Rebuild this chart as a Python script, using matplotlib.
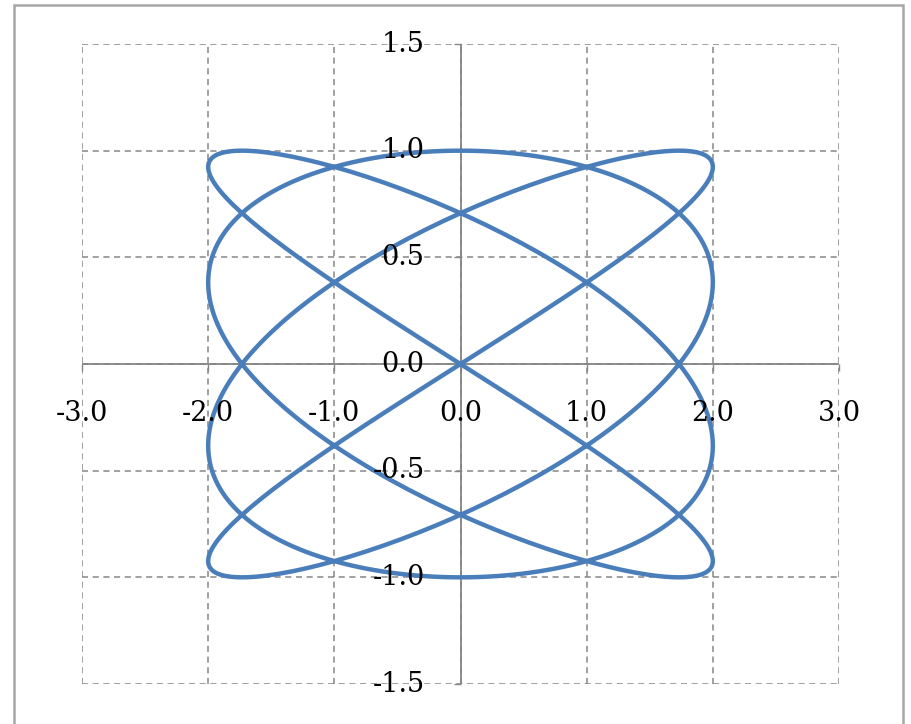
import numpy as np
import matplotlib
matplotlib.use("Agg")
import matplotlib.pyplot as plt
from matplotlib.patches import Rectangle
from matplotlib.transforms import ScaledTranslation
from matplotlib.ticker import MultipleLocator

# Lissajous figure parameters: x = Ax*sin(fx*t), y = Ay*sin(fy*t)
x_amplitude = 2.0
y_amplitude = 1.0
x_frequency = 4
y_frequency = 3
n_samples = 721

# axis ranges and tick values
x_limits = (-3.0, 3.0)
y_limits = (-1.5, 1.5)
x_ticks = [-3.0, -2.0, -1.0, 0.0, 1.0, 2.0, 3.0]
y_ticks = [-1.5, -1.0, -0.5, 0.0, 0.5, 1.0, 1.5]

t = np.linspace(0.0, 2.0 * np.pi, n_samples)
xs = x_amplitude * np.sin(x_frequency * t)
ys = y_amplitude * np.sin(y_frequency * t)

W, H = 911, 724
fig = plt.figure(figsize=(W / 100, H / 100), dpi=100)
fig.patch.set_facecolor("white")

# chart-area border
fig.patches.append(Rectangle((14 / W, -0.01), (903 - 14) / W, (724 - 5) / H + 0.01,
                             transform=fig.transFigure, fill=False,
                             edgecolor="#a6a6a6", linewidth=1.8))

left, right, top, bottom = 82, 839, 44, 684
ax = fig.add_axes([left / W, (H - bottom) / H, (right - left) / W, (bottom - top) / H])
ax.set_xlim(*x_limits)
ax.set_ylim(*y_limits)

grid_color = "#868686"
ax.set_xticks(x_ticks)
ax.set_yticks(y_ticks)
ax.grid(True, color=grid_color, linestyle=(0, (4, 3)), linewidth=1.1)

for side in ("top", "right"):
    ax.spines[side].set_visible(False)
ax.spines["left"].set_position(("data", 0))
ax.spines["bottom"].set_position(("data", 0))
for side in ("left", "bottom"):
    ax.spines[side].set_color(grid_color)
    ax.spines[side].set_linewidth(1.3)
    ax.spines[side].set_zorder(1.5)
    ax.spines[side].set_capstyle("butt")

ax.tick_params(axis="both", which="major", direction="out", length=5,
               color=grid_color, width=1.0, labelleft=False, labelbottom=False)

ax.plot(xs, ys, color="#4a7ebb", linewidth=3.2, solid_capstyle="round", zorder=3)

# tick labels drawn above the curve
font = dict(family="DejaVu Serif", size=19.5, color="black", zorder=6)
y_off = ax.transData + ScaledTranslation(-0.36, 0.0, fig.dpi_scale_trans)
for v in y_ticks:
    ax.text(0.0, v, f"{v:.1f}", transform=y_off, ha="right", va="center",
            clip_on=False, **font)
x_off = ax.transData + ScaledTranslation(0.0, -0.36, fig.dpi_scale_trans)
for v in x_ticks:
    ax.text(v, 0.0, f"{v:.1f}", transform=x_off, ha="center", va="top",
            clip_on=False, **font)

fig.savefig("out.png", dpi=100)
